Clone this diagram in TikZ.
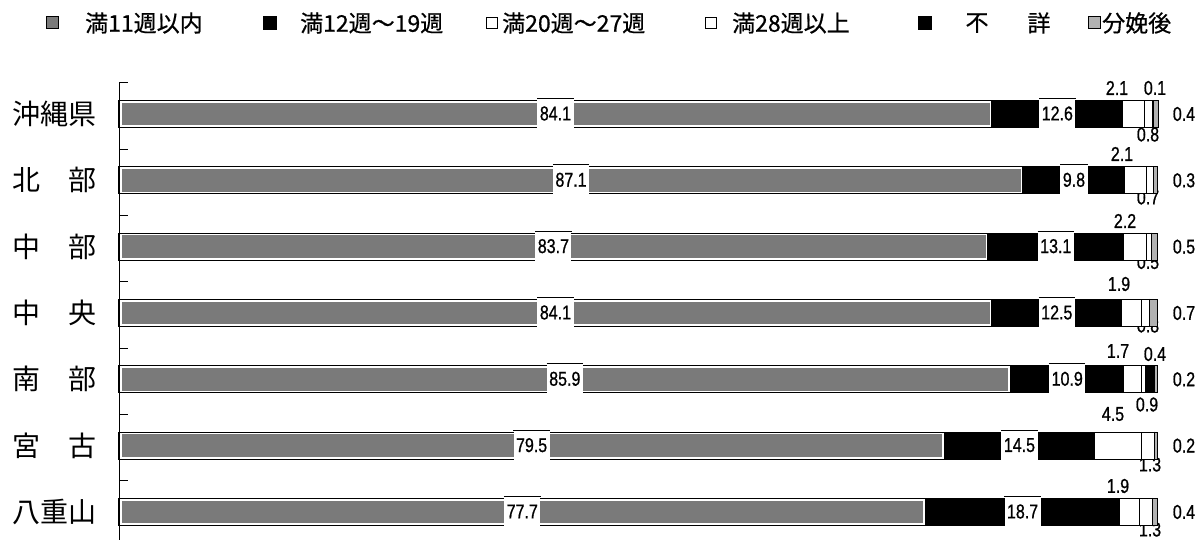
\documentclass[tikz,border=0pt]{standalone}
\usepackage{fontspec}
\newfontfamily\jp{Noto Sans CJK JP}
\newfontfamily\jpb[FakeBold=0.6]{Noto Sans CJK JP}
\newfontfamily\numf[FakeStretch=0.8,FakeBold=0.8]{Liberation Sans}
\begin{document}
\begin{tikzpicture}[x=1pt,y=-1pt,
  num/.style={font=\numf\fontsize{20}{20}\selectfont, inner sep=0pt},
  vbox/.style={num, fill=white, inner xsep=2.5pt, inner ysep=0pt, minimum height=30pt},
  rowlab/.style={font=\jp\fontsize{28}{28}\selectfont, inner sep=0pt},
  leg/.style={font=\jpb\fontsize{23}{23}\selectfont, inner sep=0pt, anchor=west},
  icon/.style={draw=black, line width=1pt, inner sep=0pt, minimum size=#1},
  dotgray/.style={fill=black!52},
  lightpat/.style={fill=black!30},
  segw/.style={draw=black, fill=white, line width=1.2pt},
  axisln/.style={line width=1pt}]
\useasboundingbox (0,0) rectangle (1200,540);

% legend
\node[icon=12pt, dotgray] (li1) at (52,23) {};
\node[leg] (lt1) at (85,23) {満11週以内};
\node[icon=13pt, fill=black] (li2) at (270,23) {};
\node[leg] (lt2) at (300,23) {満12週～19週};
\node[icon=11pt, fill=white] (li3) at (492,23) {};
\node[leg] (lt3) at (502,23) {満20週～27週};
\node[icon=11pt, fill=white] (li4) at (711,23) {};
\node[leg] (lt4) at (732,23) {満28週以上};
\node[icon=13pt, fill=black] (li5) at (925,23) {};
\node[leg, anchor=center] (lt5a) at (977,23) {不};
\node[leg, anchor=center] (lt5b) at (1039,23) {詳};
\node[icon=12pt, lightpat] (li6) at (1094,23) {};
\node[leg] (lt6) at (1102,23) {分娩後};

% axis
\coordinate (axtop) at (119,83);
\coordinate (axbot) at (119,540);
\draw[axisln] (axtop) -- (axbot);
\foreach \i in {0,...,6}{
  \pgfmathsetmacro\ty{83+66.33*\i}
  \coordinate (tk\i) at (119,\ty);
  \coordinate (tke\i) at (128,\ty);
  \draw[axisln] (tk\i) -- (tke\i);
}

% labels below bars (partly hidden by bars)
\foreach \n/\x/\y/\t in {0/1148/134.5/0.8, 1/1148/197.5/0.7, 2/1148/262/0.5, 3/1148/325.5/0.8, 4/1147/404.5/0.9, 5/1150/464.5/1.3, 6/1150/529.5/1.3}{
  \node[num] (bl\n) at (\x,\y) {\t};
}

% bars
\foreach \i/\lab/\a/\b/\c/\d/\e/\f/\r in {
  0/沖縄県/84.1/12.6/2.1/0.8/0.1/0.4/0.4,
  1/北　部/87.1/9.8/2.1/0.7/0/0.3/0.3,
  2/中　部/83.7/13.1/2.2/0.5/0/0.5/0.5,
  3/中　央/84.1/12.5/1.9/0.8/0/0.7/0.7,
  4/南　部/85.9/10.9/1.7/0.4/0.9/0.2/0.2,
  5/宮　古/79.5/14.5/4.5/1.3/0/0.2/0.2,
  6/八重山/77.7/18.7/1.9/1.3/0/0.4/0.4}{
  \pgfmathsetmacro\yc{114+66.33*\i}
  \pgfmathsetmacro\yt{\yc-13.5}
  \pgfmathsetmacro\yb{\yc+13.5}
  \pgfmathsetmacro\xa{119+10.38*\a}
  \pgfmathsetmacro\xb{\xa+10.38*\b}
  \pgfmathsetmacro\xc{\xb+10.38*\c}
  \pgfmathsetmacro\xd{\xc+10.38*\d}
  \pgfmathsetmacro\xe{\xd+10.38*\e}
  \pgfmathsetmacro\xf{\xe+10.38*\f}
  \node[rowlab] (r\i) at (54.5,\yc) {\lab};
  % 11 weeks or less
  \draw[line width=1.3pt, fill=white] (119,\yt) rectangle (\xa,\yb);
  \fill[dotgray] (121.5,\yt+2.3) rectangle (\xa-2.3,\yb-2.3);
  % 12-19 weeks
  \fill[black] (\xa,\yt-0.6) rectangle (\xb,\yb+0.6);
  % 20-27 and 28+
  \draw[segw] (\xb,\yt) rectangle (\xc,\yb);
  \draw[segw] (\xc,\yt) rectangle (\xd,\yb);
  % unknown
  \fill[black] (\xd,\yt-0.6) rectangle (\xe,\yb+0.6);
  % after delivery
  \draw[line width=1pt, lightpat] (\xe,\yt) rectangle (\xf,\yb);
  % value boxes
  \node[vbox] (va\i) at ({(119+\xa)/2},\yc-0.5) {\a};
  \draw[line width=0.9pt] (va\i.north west) -- (va\i.north east);
  \node[vbox] (vb\i) at ({(\xa+\xb)/2},\yc-0.5) {\b};
  \draw[line width=0.9pt] (vb\i.north west) -- (vb\i.north east);
  % right value
  \node[num] (rv\i) at (1184,\yc) {\r};
}

% labels above bars
\foreach \n/\x/\y/\t in {0/1117/88/2.1, 1/1155/88/0.1, 2/1122/154/2.1, 3/1125/221/2.2, 4/1119/284/1.9, 5/1118/351/1.7, 6/1155/354/0.4, 7/1113/414/4.5, 8/1118/486/1.9}{
  \node[num] (al\n) at (\x,\y) {\t};
}
\end{tikzpicture}
\end{document}
